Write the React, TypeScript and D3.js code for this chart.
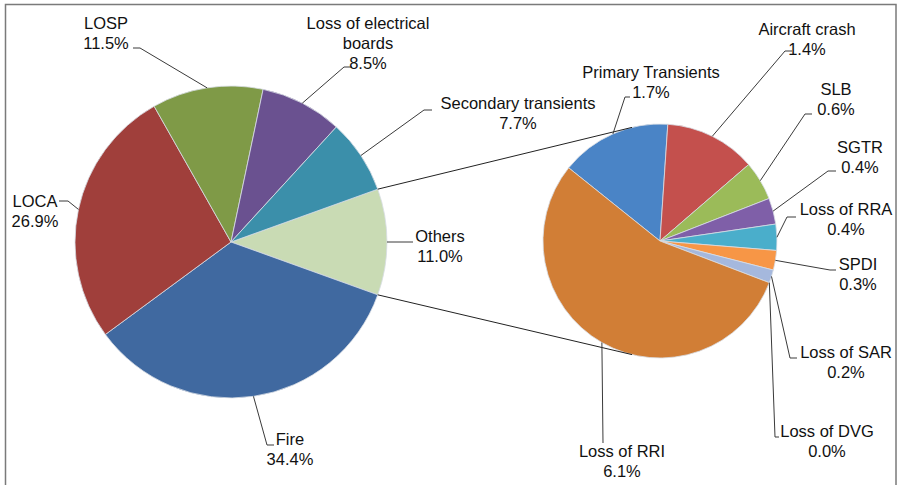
import React from "react";
import * as d3 from "d3";

// Main pie: initiating event families (percent of total)
const mainCategories = ["Others", "Fire", "LOCA", "LOSP", "Loss of electrical boards", "Secondary transients"];
const mainValues = [11.0, 34.4, 26.9, 11.5, 8.5, 7.7];

// Breakdown of "Others" (percent of total)
const subCategories = [
  "Primary Transients",
  "Aircraft crash",
  "SLB",
  "SGTR",
  "Loss of RRA",
  "SPDI",
  "Loss of SAR",
  "Loss of DVG",
  "Loss of RRI",
];
const subValues = [1.7, 1.4, 0.6, 0.4, 0.4, 0.3, 0.2, 0.0, 6.1];

const mainColors = ["#c9dbb4", "#4069a0", "#a03f3b", "#7f9a47", "#6a5190", "#3b8faa"];
const subColors = ["#4a84c6", "#c4504d", "#9bbb59", "#7f5fa8", "#4aaecb", "#f79646", "#a5b8dd", "#8aa4cf", "#d17e36"];

// Label text lines (value line is appended)
const mainLabelLines = [["Others"], ["Fire"], ["LOCA"], ["LOSP"], ["Loss of electrical", "boards"], ["Secondary transients"]];
const subLabelLines = subCategories.map((c) => [c]);

// Label layout: text centre x, first baseline y, leader bend points
type LabelPos = { x: number; y: number; leader: [number, number][] };
const mainLabelPos: LabelPos[] = [
  { x: 440, y: 242, leader: [[413, 242]] },
  { x: 290, y: 445, leader: [[267, 445], [274, 445]] },
  { x: 35, y: 207, leader: [[68, 201], [59, 201]] },
  { x: 106, y: 29, leader: [[140, 48], [133, 48]] },
  { x: 368, y: 29, leader: [[344, 67], [352, 67]] },
  { x: 518, y: 109, leader: [[424, 110], [432, 110]] },
];
const subLabelPos: LabelPos[] = [
  { x: 651, y: 78, leader: [[625, 97], [630, 97]] },
  { x: 807, y: 35, leader: [[785, 51], [792, 51]] },
  { x: 836, y: 95, leader: [[805, 114], [812, 114]] },
  { x: 860, y: 153, leader: [[828, 171], [836, 171]] },
  { x: 846, y: 215, leader: [[787, 217], [796, 217]] },
  { x: 858, y: 270, leader: [[830, 270], [836, 270]] },
  { x: 846, y: 358, leader: [[790, 358], [797, 358]] },
  { x: 827, y: 437, leader: [[775, 437], [779, 437]] },
  { x: 622, y: 457, leader: [[603, 443]] },
];

const W = 902;
const H = 485;
const mainC = { x: 231, y: 242, r: 156 };
const subC = { x: 660, y: 241, r: 117 };
const FONT = "'Liberation Sans', Arial, sans-serif";
const FS = 16.5;
const LH = 20;

const fmt = (v: number) => d3.format(".1f")(v) + "%";

export default function App() {
  const deg = Math.PI / 180;

  const othersAngle = (mainValues[0] / d3.sum(mainValues)) * 2 * Math.PI;
  const mainStart = Math.PI / 2 - othersAngle / 2;
  const mainArcs = d3
    .pie<number>()
    .sort(null)
    .startAngle(mainStart)
    .endAngle(mainStart + 2 * Math.PI)(mainValues);

  const subStart = -51.3 * deg;
  const subArcs = d3
    .pie<number>()
    .sort(null)
    .startAngle(subStart)
    .endAngle(subStart + 2 * Math.PI)(subValues);

  const mainArc = d3.arc<d3.PieArcDatum<number>>().innerRadius(0).outerRadius(mainC.r);
  const subArc = d3.arc<d3.PieArcDatum<number>>().innerRadius(0).outerRadius(subC.r);

  const onCircle = (c: { x: number; y: number; r: number }, a: number): [number, number] => [
    c.x + c.r * Math.sin(a),
    c.y - c.r * Math.cos(a),
  ];

  // Connector lines from the "Others" slice edges to the secondary pie
  const othersSlice = mainArcs[0];
  const connTop = [onCircle(mainC, othersSlice.startAngle), onCircle(subC, -13.8 * deg)];
  const connBot = [onCircle(mainC, othersSlice.endAngle), onCircle(subC, 193.8 * deg)];

  const line = d3.line();

  const renderLabels = (
    arcs: d3.PieArcDatum<number>[],
    c: { x: number; y: number; r: number },
    lines: string[][],
    pos: LabelPos[],
    values: number[],
    key: string
  ) =>
    arcs.map((a, i) => {
      const mid = (a.startAngle + a.endAngle) / 2;
      const p = pos[i];
      const pts: [number, number][] = [onCircle(c, mid), ...p.leader];
      const textLines = [...lines[i], fmt(values[i])];
      return (
        <g key={key + i}>
          <path d={line(pts) || ""} fill="none" stroke="#3a3a3a" strokeWidth={1} />
          <text
            x={p.x}
            y={p.y}
            textAnchor="middle"
            fontFamily={FONT}
            fontSize={FS}
            fill="#111"
          >
            {textLines.map((t, j) => (
              <tspan key={j} x={p.x} y={p.y + j * LH}>
                {t}
              </tspan>
            ))}
          </text>
        </g>
      );
    });

  return (
    <div style={{ position: "absolute", left: 0, top: 0, width: W, height: H, background: "#fff" }}>
      <svg width={W} height={H} style={{ display: "block" }}>
        <rect x={0} y={0} width={W} height={H} fill="#fff" />
        <rect x={5.5} y={4.5} width={890.5} height={500} fill="none" stroke="#7a7a7a" strokeWidth={1.5} />

        <g transform={`translate(${mainC.x},${mainC.y})`}>
          {mainArcs.map((a, i) => (
            <path key={i} d={mainArc(a) || ""} fill={mainColors[i]} stroke="#d8dde4" strokeWidth={0.8} />
          ))}
        </g>
        <g transform={`translate(${subC.x},${subC.y})`}>
          {subArcs.map((a, i) =>
            a.endAngle - a.startAngle > 0 ? (
              <path key={i} d={subArc(a) || ""} fill={subColors[i]} stroke="#d8dde4" strokeWidth={0.8} />
            ) : null
          )}
        </g>

        <path d={line(connTop as [number, number][]) || ""} stroke="#222" strokeWidth={1} fill="none" />
        <path d={line(connBot as [number, number][]) || ""} stroke="#222" strokeWidth={1} fill="none" />

        {renderLabels(mainArcs, mainC, mainLabelLines, mainLabelPos, mainValues, "m")}
        {renderLabels(subArcs, subC, subLabelLines, subLabelPos, subValues, "s")}
      </svg>
    </div>
  );
}
